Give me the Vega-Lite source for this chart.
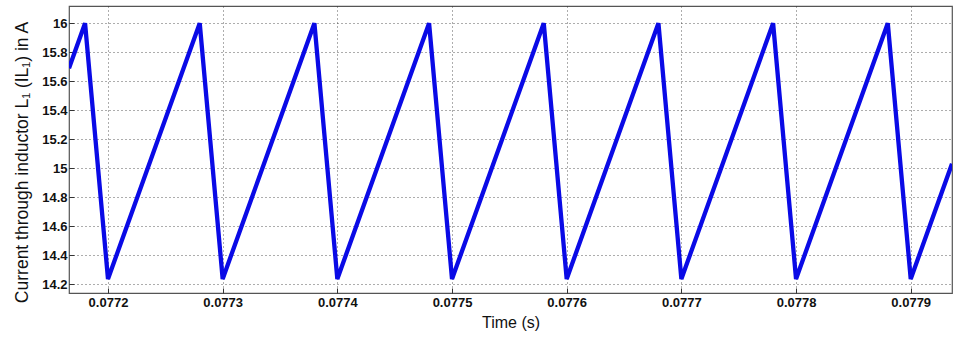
{
  "$schema": "https://vega.github.io/schema/vega-lite/v6.json",
  "width": 883,
  "height": 287,
  "autosize": {"type": "none"},
  "padding": {"left": 69, "top": 6, "right": 1, "bottom": 45},
  "background": "white",
  "config": {
    "view": {"stroke": "#555555", "strokeWidth": 1.2},
    "axis": {
      "labelFont": "Liberation Sans",
      "titleFont": "Liberation Sans",
      "labelColor": "#111111",
      "titleColor": "#111111",
      "gridColor": "#333333",
      "gridDash": [1, 3],
      "gridWidth": 1,
      "gridOpacity": 0.8,
      "domain": false,
      "tickColor": "#333333",
      "tickSize": -5,
      "labelFontSize": 13,
      "labelFontWeight": "bold",
      "titleFontWeight": "normal"
    }
  },
  "data": {
    "values": [
      {"t": 0.077166, "i": 15.69},
      {"t": 0.07718, "i": 16.0},
      {"t": 0.0772, "i": 14.235},
      {"t": 0.07728, "i": 16.0},
      {"t": 0.0773, "i": 14.235},
      {"t": 0.07738, "i": 16.0},
      {"t": 0.0774, "i": 14.235},
      {"t": 0.07748, "i": 16.0},
      {"t": 0.0775, "i": 14.235},
      {"t": 0.07758, "i": 16.0},
      {"t": 0.0776, "i": 14.235},
      {"t": 0.07768, "i": 16.0},
      {"t": 0.0777, "i": 14.235},
      {"t": 0.07778, "i": 16.0},
      {"t": 0.0778, "i": 14.235},
      {"t": 0.07788, "i": 16.0},
      {"t": 0.0779, "i": 14.235},
      {"t": 0.077936, "i": 15.03}
    ]
  },
  "mark": {"type": "line", "color": "#0a0ae6", "strokeWidth": 4.3, "strokeJoin": "miter", "clip": true},
  "encoding": {
    "x": {
      "field": "t",
      "type": "quantitative",
      "scale": {"domain": [0.077166, 0.077936], "nice": false, "zero": false},
      "axis": {
        "values": [0.0772, 0.0773, 0.0774, 0.0775, 0.0776, 0.0777, 0.0778, 0.0779],
        "format": ".4f",
        "title": "Time (s)",
        "titleFontSize": 16,
        "titlePadding": 5,
        "labelPadding": 8,
        "labelFlush": false
      }
    },
    "y": {
      "field": "i",
      "type": "quantitative",
      "scale": {"domain": [14.138, 16.119], "nice": false, "zero": false},
      "axis": {
        "values": [14.2, 14.4, 14.6, 14.8, 15.0, 15.2, 15.4, 15.6, 15.8, 16.0],
        "format": "~g",
        "title": "Current through inductor L₁  (IL₁) in A",
        "titleFontSize": 17.5,
        "titleX": -42,
        "titleY": 156,
        "titleBaseline": "alphabetic",
        "titleAlign": "center",
        "titleAngle": -90,
        "labelPadding": 7,
        "labelFlush": false
      }
    }
  }
}
